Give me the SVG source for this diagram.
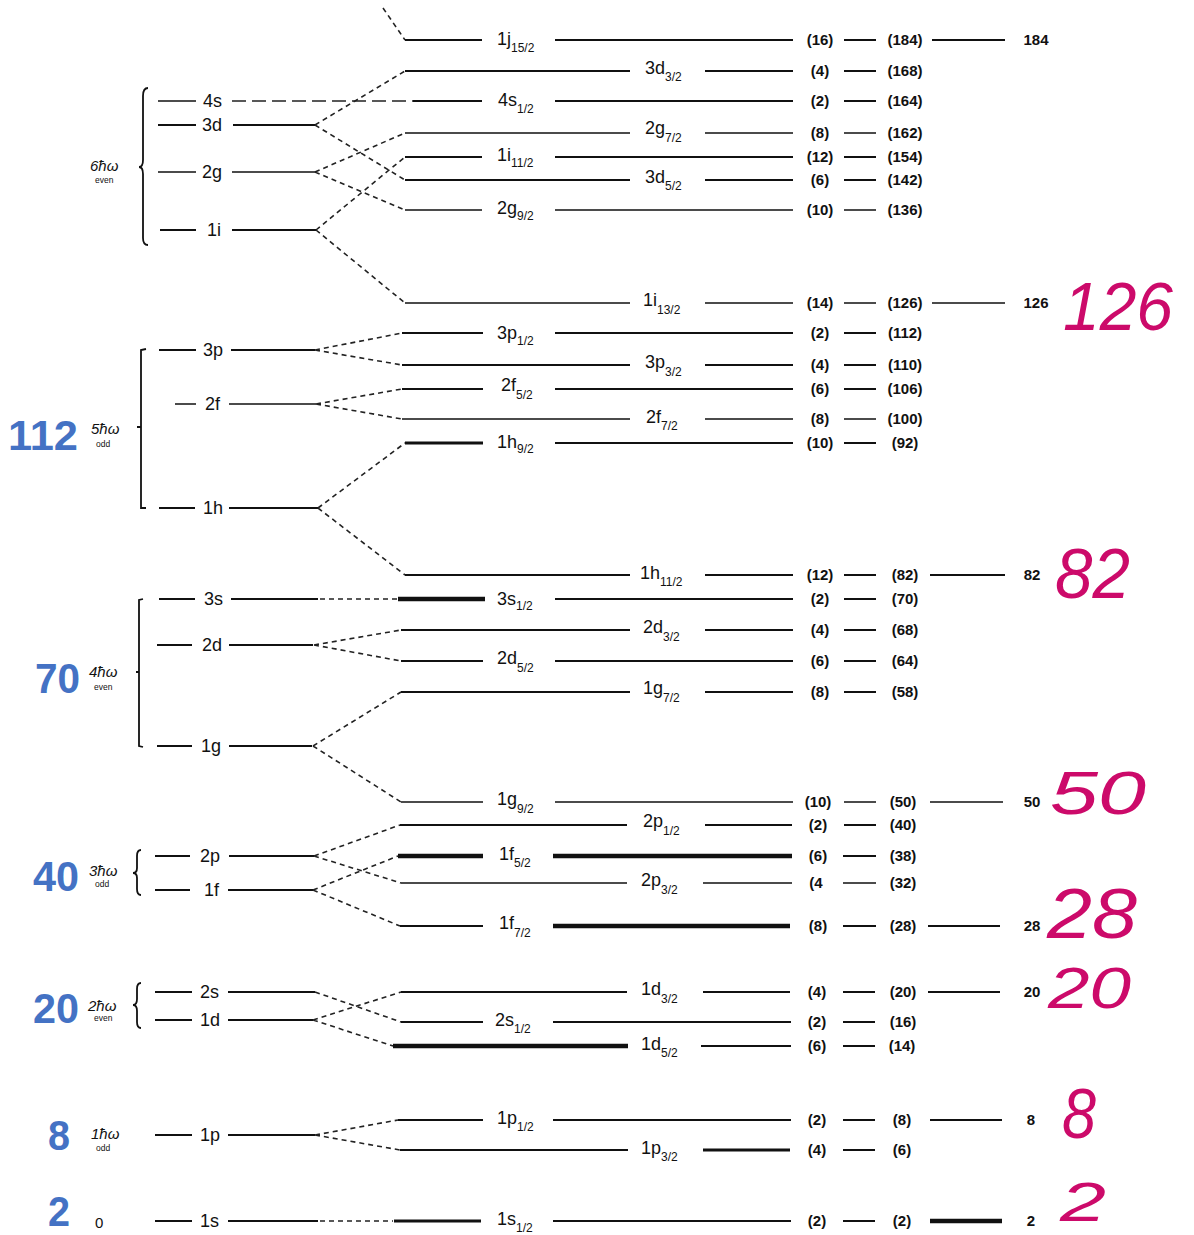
<svg xmlns="http://www.w3.org/2000/svg" width="1194" height="1235" viewBox="0 0 1194 1235">
<style>
.lv{stroke:#111;stroke-width:2;fill:none}
.tn{stroke-width:1.3}
.md{stroke-width:3}
.tk{stroke-width:4.5}
.cn{stroke:#222;stroke-width:1.6;stroke-dasharray:5 4;fill:none}
.ld{stroke:#222;stroke-width:1.5;stroke-dasharray:14 6;fill:none}
.br{stroke:#111;stroke-width:1.8;fill:none}
.t{font-family:"Liberation Sans",Arial,sans-serif;fill:#111}
.lab{font-size:18px}
.sub{font-size:12px}
.num{font-size:15px;text-anchor:middle;font-weight:bold}
.hw{font-size:15px;font-style:italic}
.par{font-size:8.5px}
.blue{font-family:"Liberation Sans",Arial,sans-serif;font-size:42px;font-weight:bold;fill:#4472c4}
.mag{font-family:"Liberation Sans",sans-serif;font-style:italic;fill:#cc0a6a}
</style>
<rect width="1194" height="1235" fill="#fff"/>

<!-- shell labels -->
<g id="shell-6">
<path class="br" d="M148,88 Q143,88 143,96 L143,160 Q143,167 139,167 Q143,167 143,174 L143,238 Q143,245 148,245"/>
<text class="t hw" x="90" y="171">6ħω</text>
<text class="t par" x="95" y="183">even</text>
</g>
<g id="shell-5">
<path class="br" d="M146,349 L141,350 L141,508 L146,508 M141,427 L137,427"/>
<text class="blue" x="8" y="450" textLength="70" lengthAdjust="spacingAndGlyphs">112</text>
<text class="t hw" x="91" y="434">5ħω</text>
<text class="t par" x="96" y="447">odd</text>
</g>
<g id="shell-4">
<path class="br" d="M143,599 L139,600 L139,746 L143,747 M139,672 L136,672"/>
<text class="blue" x="35" y="693" textLength="45" lengthAdjust="spacingAndGlyphs">70</text>
<text class="t hw" x="89" y="677">4ħω</text>
<text class="t par" x="94" y="690">even</text>
</g>
<g id="shell-3">
<path class="br" d="M141,850 Q137,850 137,856 L137,868 Q137,873 133,873 Q137,873 137,878 L137,889 Q137,895 141,895"/>
<text class="blue" x="33" y="891" textLength="46" lengthAdjust="spacingAndGlyphs">40</text>
<text class="t hw" x="89" y="876">3ħω</text>
<text class="t par" x="95" y="887">odd</text>
</g>
<g id="shell-2">
<path class="br" d="M141,983 Q137,983 137,989 L137,999 Q137,1005 133,1005 Q137,1005 137,1011 L137,1022 Q137,1028 141,1028"/>
<text class="blue" x="33" y="1023" textLength="46" lengthAdjust="spacingAndGlyphs">20</text>
<text class="t hw" x="88" y="1011">2ħω</text>
<text class="t par" x="94" y="1021">even</text>
</g>
<g id="shell-1">
<text class="blue" x="48" y="1150" textLength="22" lengthAdjust="spacingAndGlyphs">8</text>
<text class="t hw" x="91" y="1139">1ħω</text>
<text class="t par" x="96" y="1151">odd</text>
</g>
<g id="shell-0">
<text class="blue" x="48" y="1226" font-size="36" textLength="22" lengthAdjust="spacingAndGlyphs">2</text>
<text class="t" x="95" y="1228" font-size="15">0</text>
</g>

<!-- oscillator levels -->
<g id="osc-4s"><path class="lv tn" d="M158,101 H196"/><text class="t lab" x="203" y="107">4s</text></g>
<g id="osc-3d"><path class="lv" d="M158,125 H196 M233,125 H315"/><text class="t lab" x="202" y="131">3d</text></g>
<g id="osc-2g"><path class="lv tn" d="M158,172 H196 M232,172 H315"/><text class="t lab" x="202" y="178">2g</text></g>
<g id="osc-1i"><path class="lv" d="M160,230 H196 M232,230 H316"/><text class="t lab" x="207" y="236">1i</text></g>
<g id="osc-3p"><path class="lv" d="M159,350 H196 M231,350 H315"/><text class="t lab" x="203" y="356">3p</text></g>
<g id="osc-2f"><path class="lv tn" d="M175,404 H196 M229,404 H316"/><text class="t lab" x="205" y="410">2f</text></g>
<g id="osc-1h"><path class="lv" d="M159,508 H195 M229,508 H318"/><text class="t lab" x="203" y="514">1h</text></g>
<g id="osc-3s"><path class="lv" d="M159,599 H195 M231,599 H318"/><text class="t lab" x="204" y="605">3s</text></g>
<g id="osc-2d"><path class="lv" d="M157,645 H192 M229,645 H313"/><text class="t lab" x="202" y="651">2d</text></g>
<g id="osc-1g"><path class="lv" d="M157,746 H192 M229,746 H312"/><text class="t lab" x="201" y="752">1g</text></g>
<g id="osc-2p"><path class="lv" d="M155,856 H190 M229,856 H314"/><text class="t lab" x="200" y="862">2p</text></g>
<g id="osc-1f"><path class="lv" d="M155,890 H190 M228,890 H313"/><text class="t lab" x="204" y="896">1f</text></g>
<g id="osc-2s"><path class="lv" d="M155,992 H192 M228,992 H315"/><text class="t lab" x="200" y="998">2s</text></g>
<g id="osc-1d"><path class="lv" d="M155,1020 H192 M228,1020 H313"/><text class="t lab" x="200" y="1026">1d</text></g>
<g id="osc-1p"><path class="lv" d="M155,1135 H192 M228,1135 H315"/><text class="t lab" x="200" y="1141">1p</text></g>
<g id="osc-1s"><path class="lv" d="M155,1221 H192 M228,1221 H318"/><text class="t lab" x="200" y="1227">1s</text></g>

<!-- connectors -->
<g id="connectors">
<path class="cn" d="M383,8 L405,40"/>
<path class="ld" d="M232,101 H413"/>
<path class="cn" d="M315,125 L405,71 M315,125 L405,180"/>
<path class="cn" d="M315,172 L405,133 M315,172 L405,210"/>
<path class="cn" d="M316,230 L405,157 M316,230 L405,303"/>
<path class="cn" d="M315,350 L402,333 M315,350 L402,365"/>
<path class="cn" d="M316,404 L402,389 M316,404 L402,419"/>
<path class="cn" d="M318,508 L405,443 M318,508 L405,575"/>
<path class="cn" d="M320,599 H397"/>
<path class="cn" d="M314,645 L401,630 M314,645 L401,661"/>
<path class="cn" d="M313,746 L401,692 M313,746 L401,802"/>
<path class="cn" d="M314,856 L400,825 M314,856 L401,883"/>
<path class="cn" d="M313,890 L398,856 M313,890 L400,926"/>
<path class="cn" d="M315,992 L401,1022"/>
<path class="cn" d="M313,1020 L401,992 M313,1020 L393,1046"/>
<path class="cn" d="M315,1135 L398,1120 M315,1135 L400,1150"/>
<path class="cn" d="M320,1221 H393"/>
</g>

<!-- split levels -->
<g id="lv-1j15"><path class="lv" d="M405,40 H482 M555,40 H793 M844,40 H876 M932,40 H1005"/><text class="t lab" x="497" y="45">1j<tspan class="sub" dy="7">15/2</tspan></text><text class="t num" x="820" y="45">(16)</text><text class="t num" x="905" y="45">(184)</text><text class="t num" x="1036" y="45">184</text></g>
<g id="lv-3d3"><path class="lv" d="M405,71 H630 M705,71 H793 M844,71 H876"/><text class="t lab" x="645" y="74">3d<tspan class="sub" dy="7">3/2</tspan></text><text class="t num" x="820" y="76">(4)</text><text class="t num" x="905" y="76">(168)</text></g>
<g id="lv-4s1"><path class="lv" d="M413,101 H482 M555,101 H793 M844,101 H876"/><text class="t lab" x="498" y="106">4s<tspan class="sub" dy="7">1/2</tspan></text><text class="t num" x="820" y="106">(2)</text><text class="t num" x="905" y="106">(164)</text></g>
<g id="lv-2g7"><path class="lv tn" d="M405,133 H630 M705,133 H793 M844,133 H876"/><text class="t lab" x="645" y="134">2g<tspan class="sub" dy="8">7/2</tspan></text><text class="t num" x="820" y="138">(8)</text><text class="t num" x="905" y="138">(162)</text></g>
<g id="lv-1i11"><path class="lv" d="M405,157 H482 M555,157 H793 M844,157 H876"/><text class="t lab" x="497" y="161">1i<tspan class="sub" dy="6">11/2</tspan></text><text class="t num" x="820" y="162">(12)</text><text class="t num" x="905" y="162">(154)</text></g>
<g id="lv-3d5"><path class="lv" d="M405,180 H630 M705,180 H793 M844,180 H876"/><text class="t lab" x="645" y="183">3d<tspan class="sub" dy="7">5/2</tspan></text><text class="t num" x="820" y="185">(6)</text><text class="t num" x="905" y="185">(142)</text></g>
<g id="lv-2g9"><path class="lv tn" d="M405,210 H482 M555,210 H793 M844,210 H876"/><text class="t lab" x="497" y="214">2g<tspan class="sub" dy="6">9/2</tspan></text><text class="t num" x="820" y="215">(10)</text><text class="t num" x="905" y="215">(136)</text></g>
<g id="lv-1i13"><path class="lv tn" d="M405,303 H630 M705,303 H793 M844,303 H876 M932,303 H1005"/><text class="t lab" x="643" y="306">1i<tspan class="sub" dy="8">13/2</tspan></text><text class="t num" x="820" y="308">(14)</text><text class="t num" x="905" y="308">(126)</text><text class="t num" x="1036" y="308">126</text></g>
<g id="lv-3p1"><path class="lv" d="M402,333 H483 M555,333 H793 M844,333 H876"/><text class="t lab" x="497" y="339">3p<tspan class="sub" dy="6">1/2</tspan></text><text class="t num" x="820" y="338">(2)</text><text class="t num" x="905" y="338">(112)</text></g>
<g id="lv-3p3"><path class="lv" d="M402,365 H630 M705,365 H793 M844,365 H876"/><text class="t lab" x="645" y="368">3p<tspan class="sub" dy="8">3/2</tspan></text><text class="t num" x="820" y="370">(4)</text><text class="t num" x="905" y="370">(110)</text></g>
<g id="lv-2f5"><path class="lv" d="M402,389 H483 M555,389 H793 M844,389 H876"/><text class="t lab" x="501" y="391">2f<tspan class="sub" dy="8">5/2</tspan></text><text class="t num" x="820" y="394">(6)</text><text class="t num" x="905" y="394">(106)</text></g>
<g id="lv-2f7"><path class="lv tn" d="M402,419 H630 M705,419 H793 M844,419 H876"/><text class="t lab" x="646" y="423">2f<tspan class="sub" dy="7">7/2</tspan></text><text class="t num" x="820" y="424">(8)</text><text class="t num" x="905" y="424">(100)</text></g>
<g id="lv-1h9"><path class="lv md" d="M405,443 H483"/><path class="lv" d="M555,443 H793 M844,443 H876"/><text class="t lab" x="497" y="448">1h<tspan class="sub" dy="5">9/2</tspan></text><text class="t num" x="820" y="448">(10)</text><text class="t num" x="905" y="448">(92)</text></g>
<g id="lv-1h11"><path class="lv" d="M405,575 H630 M705,575 H793 M844,575 H876 M930,575 H1005"/><text class="t lab" x="640" y="579">1h<tspan class="sub" dy="7">11/2</tspan></text><text class="t num" x="820" y="580">(12)</text><text class="t num" x="905" y="580">(82)</text><text class="t num" x="1032" y="580">82</text></g>
<g id="lv-3s1"><path class="lv tk" d="M398,599 H485"/><path class="lv" d="M555,599 H793 M844,599 H876"/><text class="t lab" x="497" y="605">3s<tspan class="sub" dy="5">1/2</tspan></text><text class="t num" x="820" y="604">(2)</text><text class="t num" x="905" y="604">(70)</text></g>
<g id="lv-2d3"><path class="lv" d="M401,630 H630 M705,630 H793 M844,630 H876"/><text class="t lab" x="643" y="633">2d<tspan class="sub" dy="8">3/2</tspan></text><text class="t num" x="820" y="635">(4)</text><text class="t num" x="905" y="635">(68)</text></g>
<g id="lv-2d5"><path class="lv" d="M401,661 H483 M555,661 H793 M844,661 H876"/><text class="t lab" x="497" y="664">2d<tspan class="sub" dy="8">5/2</tspan></text><text class="t num" x="820" y="666">(6)</text><text class="t num" x="905" y="666">(64)</text></g>
<g id="lv-1g7"><path class="lv" d="M401,692 H630 M705,692 H793 M844,692 H876"/><text class="t lab" x="643" y="694">1g<tspan class="sub" dy="8">7/2</tspan></text><text class="t num" x="820" y="697">(8)</text><text class="t num" x="905" y="697">(58)</text></g>
<g id="lv-1g9"><path class="lv tn" d="M401,802 H483 M555,802 H793 M844,802 H876 M930,802 H1003"/><text class="t lab" x="497" y="805">1g<tspan class="sub" dy="8">9/2</tspan></text><text class="t num" x="818" y="807">(10)</text><text class="t num" x="903" y="807">(50)</text><text class="t num" x="1032" y="807">50</text></g>
<g id="lv-2p1"><path class="lv" d="M400,825 H627 M705,825 H792 M844,825 H876"/><text class="t lab" x="643" y="827">2p<tspan class="sub" dy="8">1/2</tspan></text><text class="t num" x="818" y="830">(2)</text><text class="t num" x="903" y="830">(40)</text></g>
<g id="lv-1f5"><path class="lv tk" d="M398,856 H483 M553,856 H792"/><path class="lv" d="M843,856 H876"/><text class="t lab" x="499" y="860">1f<tspan class="sub" dy="7">5/2</tspan></text><text class="t num" x="818" y="861">(6)</text><text class="t num" x="903" y="861">(38)</text></g>
<g id="lv-2p3"><path class="lv tn" d="M401,883 H627 M703,883 H792 M843,883 H876"/><text class="t lab" x="641" y="886">2p<tspan class="sub" dy="8">3/2</tspan></text><text class="t num" x="816" y="888">(4</text><text class="t num" x="903" y="888">(32)</text></g>
<g id="lv-1f7"><path class="lv" d="M400,926 H483 M843,926 H876 M928,926 H1000"/><path class="lv tk" d="M553,926 H790"/><text class="t lab" x="499" y="929">1f<tspan class="sub" dy="8">7/2</tspan></text><text class="t num" x="818" y="931">(8)</text><text class="t num" x="903" y="931">(28)</text><text class="t num" x="1032" y="931">28</text></g>
<g id="lv-1d3"><path class="lv" d="M401,992 H627 M703,992 H790 M843,992 H875 M928,992 H1000"/><text class="t lab" x="641" y="995">1d<tspan class="sub" dy="8">3/2</tspan></text><text class="t num" x="817" y="997">(4)</text><text class="t num" x="903" y="997">(20)</text><text class="t num" x="1032" y="997">20</text></g>
<g id="lv-2s1"><path class="lv" d="M401,1022 H483 M553,1022 H791 M843,1022 H875"/><text class="t lab" x="495" y="1026">2s<tspan class="sub" dy="7">1/2</tspan></text><text class="t num" x="817" y="1027">(2)</text><text class="t num" x="903" y="1027">(16)</text></g>
<g id="lv-1d5"><path class="lv tk" d="M393,1046 H628"/><path class="lv" d="M701,1046 H791 M843,1046 H875"/><text class="t lab" x="641" y="1050">1d<tspan class="sub" dy="7">5/2</tspan></text><text class="t num" x="817" y="1051">(6)</text><text class="t num" x="902" y="1051">(14)</text></g>
<g id="lv-1p1"><path class="lv" d="M398,1120 H483 M553,1120 H791 M843,1120 H875 M930,1120 H1002"/><text class="t lab" x="497" y="1124">1p<tspan class="sub" dy="7">1/2</tspan></text><text class="t num" x="817" y="1125">(2)</text><text class="t num" x="902" y="1125">(8)</text><text class="t num" x="1031" y="1125">8</text></g>
<g id="lv-1p3"><path class="lv" d="M400,1150 H628"/><path class="lv md" d="M703,1150 H790"/><path class="lv" d="M843,1150 H875"/><text class="t lab" x="641" y="1154">1p<tspan class="sub" dy="7">3/2</tspan></text><text class="t num" x="817" y="1155">(4)</text><text class="t num" x="902" y="1155">(6)</text></g>
<g id="lv-1s1"><path class="lv md" d="M394,1221 H481"/><path class="lv" d="M553,1221 H791 M843,1221 H875"/><path class="lv tk" d="M930,1221 H1002"/><text class="t lab" x="497" y="1225">1s<tspan class="sub" dy="7">1/2</tspan></text><text class="t num" x="817" y="1226">(2)</text><text class="t num" x="902" y="1226">(2)</text><text class="t num" x="1031" y="1226">2</text></g>

<!-- handwritten magic numbers -->
<g id="handwritten">
<text class="mag" x="1063" y="330" font-size="68" textLength="110" lengthAdjust="spacingAndGlyphs">126</text>
<text class="mag" x="1055" y="598" font-size="70" textLength="75" lengthAdjust="spacingAndGlyphs">82</text>
<text class="mag" x="1050" y="814" font-size="62" textLength="96" lengthAdjust="spacingAndGlyphs">50</text>
<text class="mag" x="1047" y="938" font-size="70" textLength="90" lengthAdjust="spacingAndGlyphs">28</text>
<text class="mag" x="1048" y="1008" font-size="58" textLength="83" lengthAdjust="spacingAndGlyphs">20</text>
<text class="mag" x="1062" y="1138" font-size="70" textLength="34" lengthAdjust="spacingAndGlyphs">8</text>
<text class="mag" x="1060" y="1221" font-size="56" textLength="46" lengthAdjust="spacingAndGlyphs">2</text>
</g>
</svg>
